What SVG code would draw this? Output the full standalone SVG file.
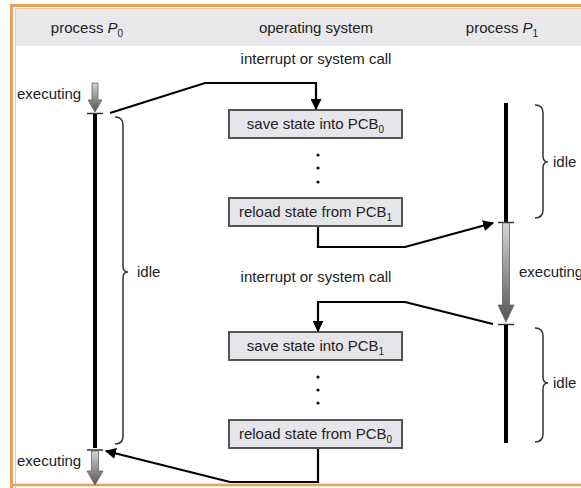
<svg xmlns="http://www.w3.org/2000/svg" width="581" height="488" viewBox="0 0 581 488">
<defs>
<linearGradient id="gr" x1="0" y1="0" x2="0" y2="1">
<stop offset="0" stop-color="#d4d4d4"/>
<stop offset="1" stop-color="#555"/>
</linearGradient>
<marker id="ah" viewBox="0 0 10 10" refX="9" refY="5" markerWidth="5" markerHeight="5" orient="auto" markerUnits="strokeWidth">
<path d="M0,0 L10,5 L0,10 Z" fill="#000"/>
</marker>
<style>
text{font-family:"Liberation Sans",Arial,sans-serif;font-size:15px;fill:#222}
.box rect{fill:#e6e5ea;stroke:#555;stroke-width:2}
.tl{stroke:#000;stroke-width:4}
.tick{stroke:#333;stroke-width:1.5}
.br{fill:none;stroke:#333;stroke-width:1.5}
.con path{fill:none;stroke:#000;stroke-width:2.2;marker-end:url(#ah)}
.dot{fill:#111}
</style>
</defs>
<rect x="0" y="0" width="581" height="488" fill="#fff"/>
<rect x="16" y="8" width="570" height="38" fill="#e9e9eb"/>
<path d="M11.5,490 V5.5 H590" fill="none" stroke="#e8a05c" stroke-width="3"/>
<path d="M15.5,490 V8.5 H590" fill="none" stroke="#f3c79c" stroke-width="1"/>
<path d="M10,485 H590" fill="none" stroke="#e8a05c" stroke-width="2.5"/>

<g id="headers">
<text x="87" y="33" text-anchor="middle">process <tspan font-style="italic">P</tspan><tspan font-size="10" dy="4">0</tspan></text>
<text x="316" y="33" text-anchor="middle">operating system</text>
<text x="502" y="33" text-anchor="middle">process <tspan font-style="italic">P</tspan><tspan font-size="10" dy="4">1</tspan></text>
</g>

<g id="p0">
<path d="M92,83 H98 V100 H102 L95,112 L88,100 H92 Z" fill="url(#gr)" stroke="#666" stroke-width="0.8"/>
<line class="tick" x1="87" y1="113.5" x2="103" y2="113.5"/>
<line class="tl" x1="95" y1="114" x2="95" y2="448"/>
<line class="tick" x1="87" y1="450" x2="103" y2="450"/>
<path d="M91.5,451 H98.5 V471 H103 L95,485 L87,471 H91.5 Z" fill="url(#gr)" stroke="#666" stroke-width="0.8"/>
<text x="17" y="99">executing</text>
<text x="17" y="466">executing</text>
<path class="br" d="M115,117 Q123,117 123,125 V266 Q123,272 128,272 Q123,272 123,278 V436 Q123,444 115,444"/>
<text x="137" y="277">idle</text>
</g>

<g id="p1">
<line class="tl" x1="506" y1="103" x2="506" y2="222"/>
<line class="tick" x1="498" y1="222.5" x2="514" y2="222.5"/>
<path d="M502.5,223 H509.5 V305 H514 L506,322 L498,305 H502.5 Z" fill="url(#gr)" stroke="#666" stroke-width="0.8"/>
<line class="tick" x1="498" y1="324.5" x2="514" y2="324.5"/>
<line class="tl" x1="506" y1="325" x2="506" y2="443"/>
<path class="br" d="M535,105 Q543,105 543,113 V156 Q543,162 548,162 Q543,162 543,168 V210 Q543,218 535,218"/>
<text x="553" y="167">idle</text>
<text x="519" y="277">executing</text>
<path class="br" d="M535,328 Q543,328 543,336 V377 Q543,383 548,383 Q543,383 543,389 V434 Q543,442 535,442"/>
<text x="553" y="388">idle</text>
</g>

<g id="os">
<text x="316" y="64" text-anchor="middle">interrupt or system call</text>
<text x="316" y="282" text-anchor="middle">interrupt or system call</text>
<g id="box1" class="box"><rect x="229" y="110" width="173" height="28"/><text x="315.5" y="129" text-anchor="middle">save state into PCB<tspan font-size="10" dy="4">0</tspan></text></g>
<g id="dots1"><circle class="dot" cx="318" cy="155" r="1.6"/><circle class="dot" cx="318" cy="168" r="1.6"/><circle class="dot" cx="318" cy="182" r="1.6"/></g>
<g id="box2" class="box"><rect x="229" y="198" width="173" height="28"/><text x="315.5" y="217" text-anchor="middle">reload state from PCB<tspan font-size="10" dy="4">1</tspan></text></g>
<g id="box3" class="box"><rect x="229" y="332" width="173" height="28"/><text x="315.5" y="351" text-anchor="middle">save state into PCB<tspan font-size="10" dy="4">1</tspan></text></g>
<g id="dots2"><circle class="dot" cx="318" cy="377" r="1.6"/><circle class="dot" cx="318" cy="390" r="1.6"/><circle class="dot" cx="318" cy="403" r="1.6"/></g>
<g id="box4" class="box"><rect x="229" y="420" width="173" height="28"/><text x="315.5" y="439" text-anchor="middle">reload state from PCB<tspan font-size="10" dy="4">0</tspan></text></g>
</g>

<g id="connectors" class="con">
<path d="M110,113 L205,83 H316 V109"/>
<path d="M318,227 V247 H405 L493,223"/>
<path d="M493,324 L405,302 H318 V331"/>
<path d="M318,449 V482 H230 L106,451"/>
</g>
</svg>
